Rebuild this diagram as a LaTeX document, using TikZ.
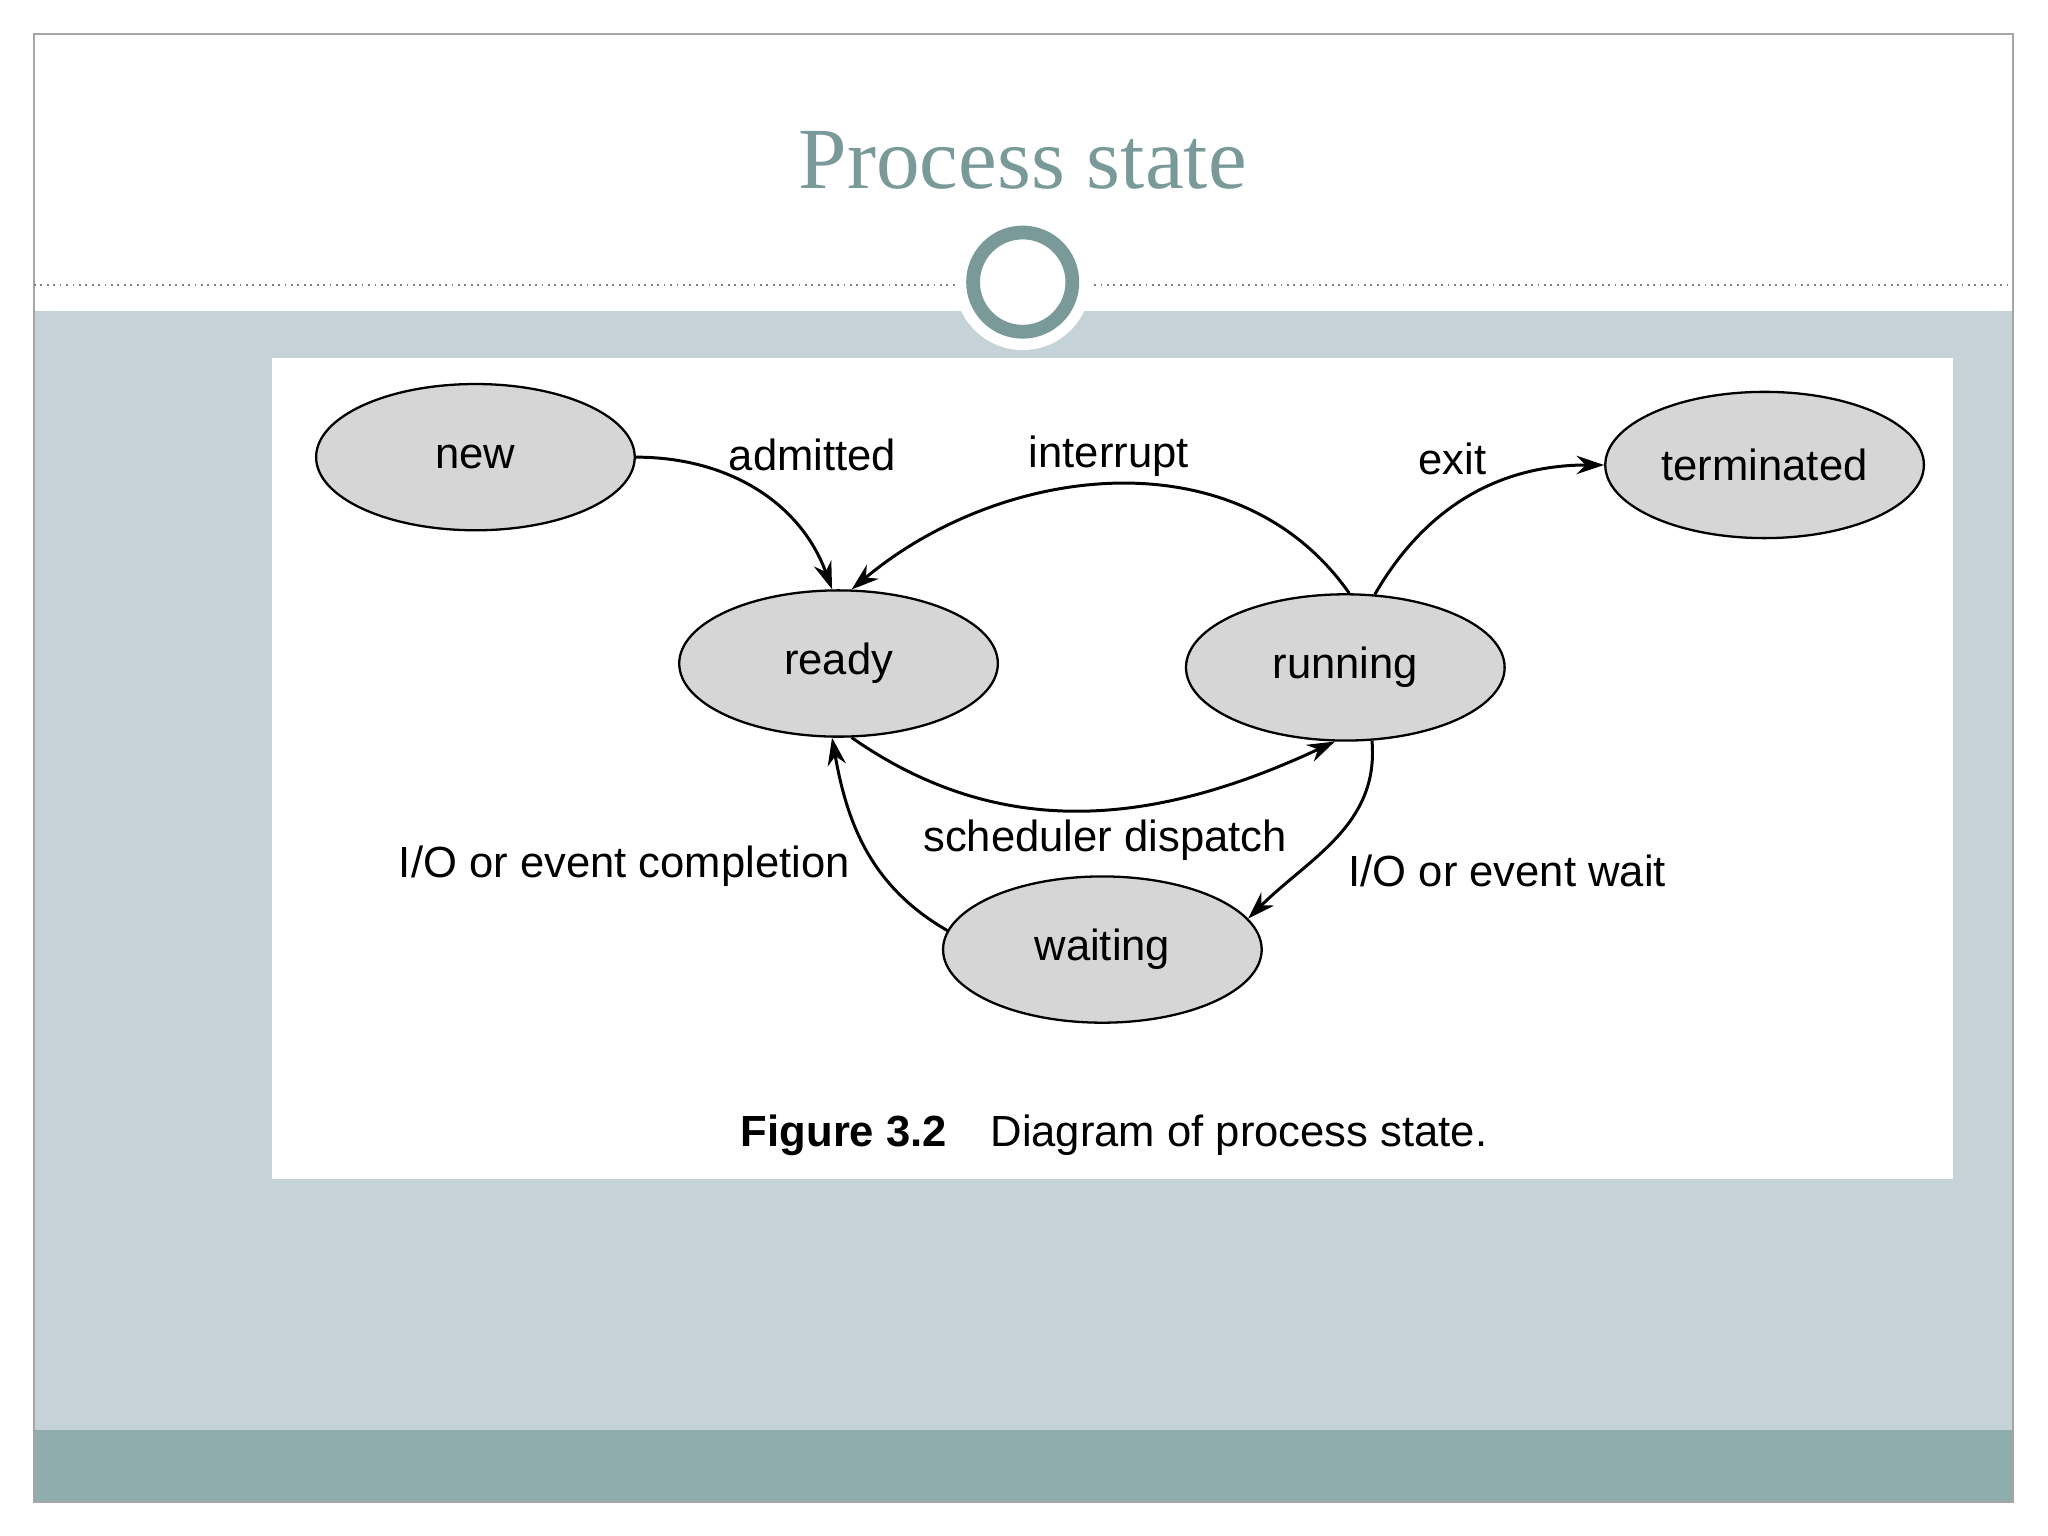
\documentclass[tikz,border=0pt]{standalone}
\usepackage{fontspec}
\setmainfont{Liberation Sans}
\newfontfamily\titlefont{Liberation Serif}
\usetikzlibrary{shapes.geometric,arrows.meta}
\definecolor{bgblue}{HTML}{C5D3D8}
\definecolor{band}{HTML}{8FADAD}
\definecolor{teal}{HTML}{7A9A9A}
\definecolor{stategray}{HTML}{D6D6D6}
\begin{document}
\begin{tikzpicture}[x=0.02cm,y=-0.02cm,
  st/.style={ellipse,draw=black,line width=1pt,fill=stategray,minimum width=4.88cm,minimum height=2.24cm,inner sep=0pt,font=\fontsize{19}{22}\selectfont},
  lbl/.style={font=\fontsize{19}{22}\selectfont,inner sep=0pt},
  tr/.style={line width=1.3pt,-{Stealth[length=12pt,width=8pt]}}]
\useasboundingbox (0,0) rectangle (1568,1176);
\fill[white] (0,0) rectangle (1568,1176);
\fill[bgblue] (26,238) rectangle (1541,1095);
\fill[band] (26,1095) rectangle (1541,1150);
\draw[gray!70,line width=0.8pt] (26,26) rectangle (1541,1150);
\draw[gray,dotted,line width=0.8pt] (26,218) -- (1541,218);
\node[font=\titlefont\fontsize{38}{44}\selectfont,text=teal] (title) at (783,123) {Process state};
\fill[white] (783,216) circle (52);
\draw[teal,line width=6pt,fill=white] (783,216) circle (38);
\fill[white] (208,274) rectangle (1495,903);
\node[st] (new) at (364,350) {new};
\node[st] (ready) at (642,508) {ready};
\node[st] (running) at (1030,511) {running};
\node[st] (term) at (1351,356) {terminated};
\node[st] (wait) at (844,727) {waiting};
\draw[tr] (new.0) to[out=0,in=110] (ready.95);
\draw[tr] (running.87) to[out=125,in=40] (ready.80);
\draw[tr] (ready.-80) to[out=-35,in=-155] (running.-98);
\draw[tr] (running.-70) to[out=-85,in=45] (wait.12);
\draw[tr] (wait.173) to[out=150,in=-80] (ready.-95);
\draw[tr] (running.68) to[out=60,in=180] (term.180);
\node[lbl] (l1) at (622,348) {admitted};
\node[lbl] (l2) at (849,349) {interrupt};
\node[lbl] (l3) at (1112,351) {exit};
\node[lbl] (l4) at (846,643) {scheduler dispatch};
\node[lbl] (l5) at (478,663) {I/O or event completion};
\node[lbl] (l6) at (1154,667) {I/O or event wait};
\node[lbl] (cap) at (853,869) {\textbf{Figure 3.2}\quad Diagram of process state.};
\end{tikzpicture}
\end{document}
